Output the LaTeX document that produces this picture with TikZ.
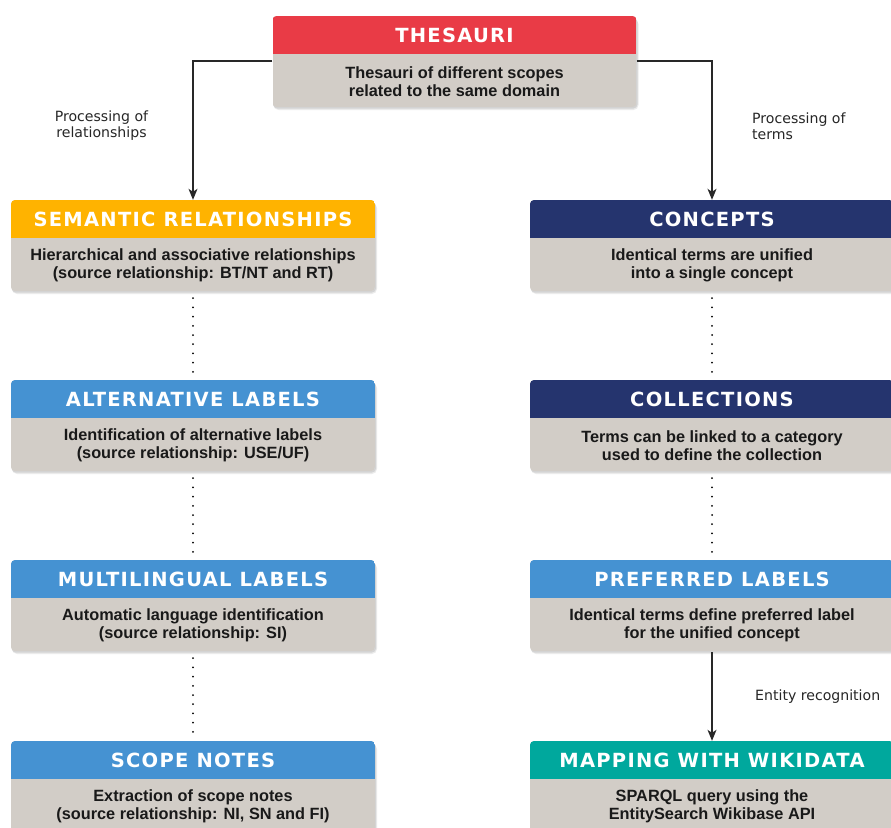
\documentclass[tikz,border=0pt]{standalone}
\usepackage{fontspec}
\setmainfont{Liberation Sans}
\newfontfamily\titlefont[LetterSpace=6.5]{DejaVu Sans}
\newfontfamily\notefont{DejaVu Sans}
\usetikzlibrary{arrows.meta}

\definecolor{cardgrey}{RGB}{210,205,199}
\definecolor{hdred}{RGB}{233,59,70}
\definecolor{hdorange}{RGB}{255,179,0}
\definecolor{hdnavy}{RGB}{37,52,110}
\definecolor{hdblue}{RGB}{69,146,210}
\definecolor{hdteal}{RGB}{0,168,157}
\definecolor{linegrey}{RGB}{40,40,40}

\tikzset{
  cardtitle/.style={text=white, font=\titlefont\bfseries\fontsize{19.5}{22}\selectfont,
    inner sep=0pt, minimum width=364pt, minimum height=38pt},
  cardtext/.style={text=black!90, font=\bfseries\fontsize{16.3}{18}\selectfont, align=center,
    inner sep=0pt, minimum width=364pt, minimum height=53pt},
  conn/.style={draw=linegrey, line width=1.2pt, -{Stealth[length=11pt,width=9pt,inset=3pt]}},
  dotline/.style={draw=black, line width=2pt, line cap=round, dash pattern=on 0pt off 9.2pt},
  note/.style={font=\notefont\fontsize{14.1}{15.5}\selectfont, text=black!85, inner sep=0pt},
}

% A card: coloured title bar above a grey text panel, with a soft shadow.
% #1 name, #2 centre x, #3 top y, #4 bar colour, #5 title, #6 text
\newcommand\card[6]{%
  \fill[black, opacity=0.08, rounded corners=5pt] (#2-181,#3+3) rectangle (#2+184,#3+94);
  \fill[black, opacity=0.10, rounded corners=4pt] (#2-181.5,#3+2) rectangle (#2+183,#3+92.5);
  \begin{scope}
    \clip[rounded corners=4pt] (#2-182,#3) rectangle (#2+182,#3+91);
    \fill[cardgrey] (#2-182,#3) rectangle (#2+182,#3+91);
    \fill[#4] (#2-182,#3) rectangle (#2+182,#3+38);
  \end{scope}
  \node[cardtitle] (#1-t) at (#2,#3+19) {#5};
  \node[cardtext] (#1) at (#2,#3+65.5) {#6};
}

\begin{document}
\begin{tikzpicture}[x=1pt, y=-1pt]
  \useasboundingbox (0,0) rectangle (891,827);

  \card{thes}{454.5}{16}{hdred}{THESAURI}{Thesauri of different scopes\\related to the same domain}

  \card{sem}{193}{200}{hdorange}{SEMANTIC RELATIONSHIPS}{Hierarchical and associative relationships\\(source relationship: BT/NT and RT)}
  \card{alt}{193}{380}{hdblue}{ALTERNATIVE LABELS}{Identification of alternative labels\\(source relationship: USE/UF)}
  \card{mul}{193}{560}{hdblue}{MULTILINGUAL LABELS}{Automatic language identification\\(source relationship: SI)}
  \card{sco}{193}{741}{hdblue}{SCOPE NOTES}{Extraction of scope notes\\(source relationship: NI, SN and FI)}

  \card{con}{712}{200}{hdnavy}{CONCEPTS}{Identical terms are unified\\into a single concept}
  \card{col}{712}{380}{hdnavy}{COLLECTIONS}{Terms can be linked to a category\\used to define the collection}
  \card{pre}{712}{560}{hdblue}{PREFERRED LABELS}{Identical terms define preferred label\\for the unified concept}
  \card{map}{712}{741}{hdteal}{MAPPING WITH WIKIDATA}{SPARQL query using the\\EntitySearch Wikibase API}

  % connectors from the thesauri card
  \draw[conn] ([yshift=20.5pt]thes.west) -| (sem-t.north);
  \draw[conn] ([yshift=20.5pt]thes.east) -| (con-t.north);
  \draw[conn] (pre.south) -- (map-t.north);

  % dotted links within each column
  \foreach \a/\b in {sem/alt, alt/mul, mul/sco, con/col, col/pre}
    \draw[dotline] ([yshift=-6pt]\a.south) -- ([yshift=8pt]\b-t.north);

  % edge labels
  \node[note, align=center, anchor=north] (lrel) at (101.5,111) {Processing of\\relationships};
  \node[note, align=left, anchor=north west] (lterm) at (752,113) {Processing of\\terms};
  \node[note, anchor=west] (lent) at (755,697) {Entity recognition};
\end{tikzpicture}
\end{document}
